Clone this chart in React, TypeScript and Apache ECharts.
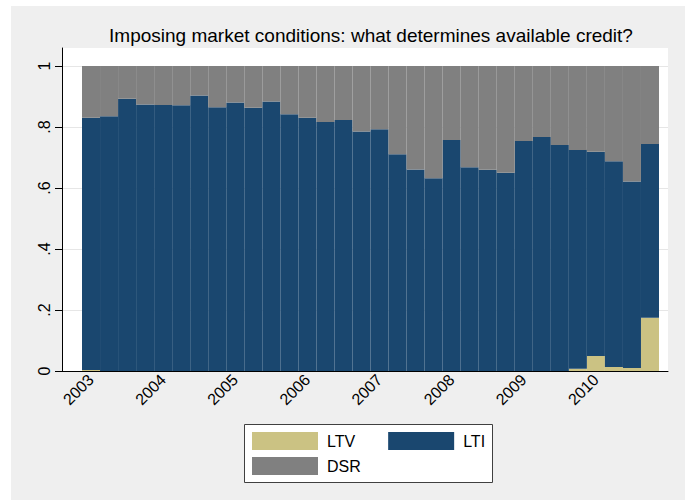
import React, { useEffect, useRef } from "react";
import * as echarts from "echarts";

const TITLE = "Imposing market conditions: what determines available credit?";
const years = ["2003", "2004", "2005", "2006", "2007", "2008", "2009", "2010"];
const quarterSuffix = ["q1", "q2", "q3", "q4"];
const quarters = years.flatMap((y) => quarterSuffix.map((q) => y + q));

const ltv = [
  0.003, 0, 0, 0, 0, 0, 0, 0,
  0, 0, 0, 0, 0, 0, 0, 0,
  0, 0, 0, 0, 0, 0, 0, 0,
  0, 0, 0, 0.007, 0.049, 0.013, 0.01, 0.175,
];
const lti = [
  0.827, 0.835, 0.893, 0.874, 0.872, 0.871, 0.903, 0.865,
  0.88, 0.863, 0.884, 0.842, 0.83, 0.816, 0.823, 0.785,
  0.793, 0.711, 0.661, 0.632, 0.757, 0.668, 0.66, 0.65,
  0.754, 0.767, 0.741, 0.718, 0.67, 0.675, 0.611, 0.569,
];
const dsr = [
  0.17, 0.165, 0.107, 0.126, 0.128, 0.129, 0.097, 0.135,
  0.12, 0.137, 0.116, 0.158, 0.17, 0.184, 0.177, 0.215,
  0.207, 0.289, 0.339, 0.368, 0.243, 0.332, 0.34, 0.35,
  0.246, 0.233, 0.259, 0.275, 0.281, 0.312, 0.379, 0.256,
];
const yTickLabels = ["0", ".2", ".4", ".6", ".8", "1"];

const FONT = "'Liberation Sans', Arial, sans-serif";
const C_LTV = "#cbc283";
const C_LTI = "#1a476f";
const C_DSR = "#808080";

export default function App() {
  const ref = useRef<HTMLDivElement>(null);
  useEffect(() => {
    if (!ref.current) return;
    const chart = echarts.init(ref.current, null, { renderer: "svg" });
    const hidden = { show: false };
    chart.setOption({
      animation: false,
      textStyle: { fontFamily: FONT },
      title: {
        text: TITLE,
        left: 360,
        top: 20,
        textAlign: "center",
        padding: 0,
        textStyle: { fontFamily: FONT, fontSize: 19, fontWeight: "normal", color: "#000" },
      },
      grid: [
        { left: 51, top: 42, width: 606, height: 323, show: true, backgroundColor: "#ffffff", borderWidth: 0 },
        { left: 51, top: 60, width: 606, height: 305 },
        { left: 71, top: 60, width: 577, height: 305 },
      ],
      xAxis: [
        {
          gridIndex: 0, type: "value", min: 0, max: 1,
          axisLine: { show: true, onZero: false, lineStyle: { color: "#000", width: 1 } },
          axisTick: hidden, axisLabel: hidden, splitLine: hidden,
        },
        {
          gridIndex: 1, type: "value", min: 0, max: 1,
          axisLine: hidden, axisTick: hidden, axisLabel: hidden, splitLine: hidden,
        },
        {
          gridIndex: 2, type: "category", data: quarters,
          axisLine: hidden, axisTick: hidden, splitLine: hidden,
          axisLabel: {
            interval: 3,
            rotate: 45,
            margin: 6,
            fontSize: 16,
            color: "#000",
            fontFamily: FONT,
            formatter: (v: string) => v.slice(0, 4),
          },
        },
      ],
      yAxis: [
        {
          gridIndex: 0, type: "value", min: 0, max: 1,
          axisLine: { show: true, onZero: false, lineStyle: { color: "#000", width: 1 } },
          axisTick: hidden, axisLabel: hidden, splitLine: hidden,
        },
        {
          gridIndex: 1, type: "value", min: 0, max: 1, interval: 0.2,
          axisLine: hidden,
          axisTick: { show: true, length: 7, lineStyle: { color: "#000" } },
          axisLabel: {
            rotate: 90,
            margin: 10,
            fontSize: 16,
            color: "#000",
            fontFamily: FONT,
            formatter: (v: number) => yTickLabels[Math.round(v * 5)],
          },
          splitLine: { show: true, lineStyle: { color: "#e6e6e6", width: 1 } },
        },
        {
          gridIndex: 2, type: "value", min: 0, max: 1,
          axisLine: hidden, axisTick: hidden, axisLabel: hidden, splitLine: hidden,
        },
      ],
      legend: [
        {
          data: ["LTV", "LTI"],
          left: 241, top: 426, padding: 0,
          itemWidth: 66, itemHeight: 18, itemGap: 33,
          icon: "rect",
          textStyle: { fontFamily: FONT, fontSize: 16, color: "#000", padding: [0, 0, 0, 4] },
        },
        {
          data: ["DSR"],
          left: 241, top: 451, padding: 0,
          itemWidth: 66, itemHeight: 18,
          icon: "rect",
          textStyle: { fontFamily: FONT, fontSize: 16, color: "#000", padding: [0, 0, 0, 4] },
        },
      ],
      graphic: [
        {
          type: "rect",
          left: 233, top: 418, z: -1,
          shape: { width: 248, height: 58 },
          style: { fill: "#ffffff", stroke: "#404040", lineWidth: 1 },
        },
      ],
      series: [
        { name: "LTV", type: "bar", stack: "total", data: ltv, xAxisIndex: 2, yAxisIndex: 2, barCategoryGap: "0%", itemStyle: { color: C_LTV } },
        { name: "LTI", type: "bar", stack: "total", data: lti, xAxisIndex: 2, yAxisIndex: 2, barCategoryGap: "0%", itemStyle: { color: C_LTI } },
        { name: "DSR", type: "bar", stack: "total", data: dsr, xAxisIndex: 2, yAxisIndex: 2, barCategoryGap: "0%", itemStyle: { color: C_DSR } },
      ],
    });
    return () => chart.dispose();
  }, []);
  return (
    <div
      style={{ position: "absolute", left: 11, top: 6, width: 674, height: 494, background: "#efefef" }}
    >
      <div ref={ref} style={{ width: 674, height: 494 }} />
    </div>
  );
}
